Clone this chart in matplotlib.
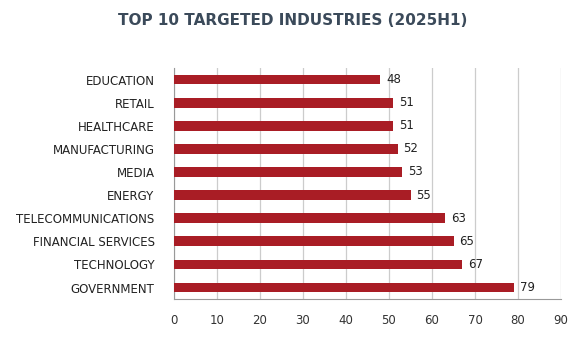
import numpy as np
import matplotlib
matplotlib.use("Agg")
import matplotlib.pyplot as plt

# donnees
industries = ["EDUCATION", "RETAIL", "HEALTHCARE", "MANUFACTURING", "MEDIA",
              "ENERGY", "TELECOMMUNICATIONS", "FINANCIAL SERVICES",
              "TECHNOLOGY", "GOVERNMENT"]
counts = [48, 51, 51, 52, 53, 55, 63, 65, 67, 79]
xticks = [0, 10, 20, 30, 40, 50, 60, 70, 80, 90]

plt.rcParams['font.family'] = ['DejaVu Sans']

fig = plt.figure(figsize=(5.85, 3.41), dpi=100)
ax = fig.add_axes([0.2974, 0.123, 0.6616, 0.6776])

# government en bas, education en haut
y = np.arange(len(industries))[::-1]
ax.barh(y, counts, height=0.42, color="#a91d25", zorder=3)

for yi, v in zip(y, counts):
    ax.text(v + 1.4, yi, str(v), va="center", ha="left", fontsize=8.5, color="#222222")

ax.set_xlim(0, 90)
ax.set_ylim(-0.5, 9.5)
ax.set_yticks(y)
ax.set_yticklabels(industries, fontsize=8.5, color="#222222")
ax.set_xticks(xticks)
ax.set_xticklabels([str(t) for t in xticks], fontsize=8.5, color="#333333")
ax.tick_params(axis="both", length=0)
ax.tick_params(axis="x", pad=11)
ax.tick_params(axis="y", pad=14)

ax.grid(axis="x", color="#cccccc", linewidth=0.9, zorder=0)
for s in ["top", "right"]:
    ax.spines[s].set_visible(False)
ax.spines["left"].set_color("#999999")
ax.spines["bottom"].set_color("#999999")

fig.text(0.5, 0.94, "TOP 10 TARGETED INDUSTRIES (2025H1)", ha="center", va="center",
         fontsize=11, fontweight="bold", color="#3b4a5a")

fig.savefig("out.png", dpi=100)
